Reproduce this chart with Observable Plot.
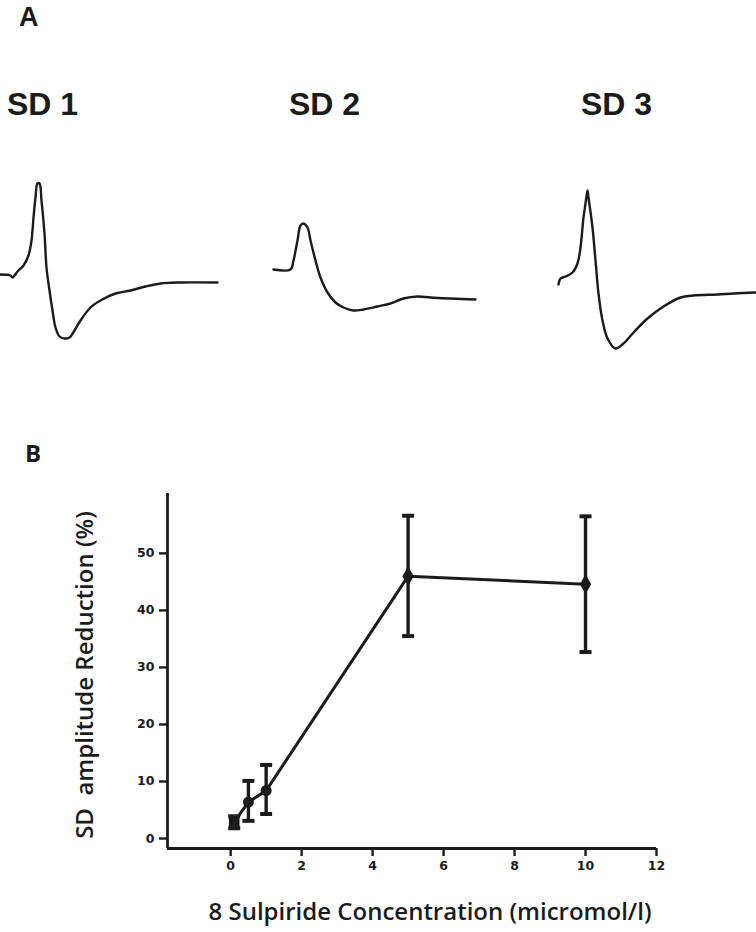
<!DOCTYPE html>
<html>
<head>
<meta charset="utf-8">
<script src="https://cdn.jsdelivr.net/npm/d3@7"></script>
<script src="https://cdn.jsdelivr.net/npm/@observablehq/plot@0.6"></script>
<style>
  html, body { margin: 0; padding: 0; background: #fff; }
  #root { position: relative; width: 756px; height: 932px; overflow: hidden; background: #fff; }
  .abs { position: absolute; }
  #labels { position: absolute; left: 0; top: 0; pointer-events: none; }
</style>
</head>
<body>
<div id="root"></div>
<script>
// ---------- Panel A: SD traces (time, amplitude relative to final baseline) ----------
const sd1T = [0, 10, 12, 17, 23, 28, 31, 33, 35, 37, 39, 41, 44, 46, 49, 52, 55, 59, 64, 69, 74, 80, 90, 100, 115, 130, 145, 160, 180, 217];
const sd1V = [0.8, 0.7, 0.5, 1.1, 1.7, 2.7, 4.2, 6.5, 8.5, 9.9, 9.9, 8.2, 4.9, 1.5, -0.8, -2.8, -4.5, -5.4, -5.6, -5.5, -4.8, -3.8, -2.5, -1.8, -1.1, -0.8, -0.4, -0.1, 0, 0];
const sd2T = [0, 17, 20, 24, 27, 30, 34, 37, 42, 47, 54, 62, 70, 80, 90, 104, 117, 130, 144, 157, 177, 202];
const sd2V = [3.0, 3.0, 3.9, 5.9, 7.4, 7.6, 7.2, 5.9, 3.9, 2.2, 0.7, -0.3, -0.8, -1.1, -1.0, -0.7, -0.4, 0.1, 0.3, 0.2, 0.1, 0];
const sd3T = [0, 2, 7, 14, 19, 22, 25, 27, 29, 30, 34, 37, 40, 44, 49, 57, 65, 75, 89, 105, 122, 135, 159, 175, 197];
const sd3V = [0.8, 1.4, 1.6, 2.0, 2.9, 4.5, 7.5, 8.9, 10.2, 9.5, 6.5, 3.2, -0.1, -2.8, -4.6, -5.6, -5.1, -4.0, -2.6, -1.4, -0.5, -0.3, -0.2, -0.1, 0];
const traceNames = ["SD 1", "SD 2", "SD 3"];
const traceYDomain = [-6, 10.5];

// ---------- Panel B: dose-response ----------
const conc = [0.1, 0.5, 1, 5, 10];
const reduction = [2.9, 6.4, 8.4, 46.0, 44.6];
const errLow = [1.8, 3.1, 4.3, 35.5, 32.7];
const errHigh = [3.9, 10.1, 12.9, 56.6, 56.5];
const markerShape = ["square", "circle", "circle", "diamond", "diamond"];
const xTicks = [0, 2, 4, 6, 8, 10, 12];
const yTicks = [0, 10, 20, 30, 40, 50];
const xDomain = [-1.78, 12];
const yDomain = [-1.75, 60.5];
const xTitle = "8 Sulpiride Concentration (micromol/l)";
const yTitle = "SD\u00a0 amplitude Reduction (%)";

const ink = "#1b1b1b";
const root = document.getElementById("root");

function place(el, left, top) {
  el.classList.add("abs");
  el.style.left = left + "px";
  el.style.top = top + "px";
  root.appendChild(el);
}

function tracePlot(t, v) {
  const span = d3.max(t);
  const rows = t.map((d, i) => ({t: d, v: v[i]}));
  return Plot.plot({
    width: span + 4,
    height: (traceYDomain[1] - traceYDomain[0]) * 10 + 4,
    margin: 2,
    x: {domain: [0, span], axis: null},
    y: {domain: traceYDomain, axis: null},
    style: {overflow: "visible", background: "transparent"},
    marks: [Plot.line(rows, {x: "t", y: "v", stroke: ink, strokeWidth: 2.4, curve: "catmull-rom"})]
  });
}

// trace plots placed so that amplitude 0 lies on each trace's end baseline
place(tracePlot(sd1T, sd1V), -2, 175);
place(tracePlot(sd2T, sd2V), 271, 192);
place(tracePlot(sd3T, sd3V), 556, 185);

// Panel B chart
const rows = conc.map((c, i) => ({c, y: reduction[i], lo: errLow[i], hi: errHigh[i], shape: markerShape[i]}));
const capSymbol = {draw(context) { context.moveTo(-6, 0); context.lineTo(6, 0); }};
const tickFont = {fontFamily: "DejaVu Sans, sans-serif", fontSize: 12.5, fontWeight: "bold"};

const chartB = Plot.plot({
  width: 676,
  height: 410,
  marginLeft: 167,
  marginRight: 20,
  marginTop: 13,
  marginBottom: 42,
  x: {domain: xDomain},
  y: {domain: yDomain},
  style: {fontFamily: "DejaVu Sans, sans-serif", fontSize: "13px", fontWeight: "bold", color: ink, background: "transparent"},
  marks: [
    Plot.ruleX([xDomain[0]], {stroke: ink, strokeWidth: 2.8}),
    Plot.ruleY([yDomain[0]], {stroke: ink, strokeWidth: 2.8}),
    Plot.axisX({ticks: xTicks, tickSize: 8, tickPadding: 5, stroke: ink, strokeWidth: 2.4, fill: ink, label: null, ...tickFont}),
    Plot.axisY({ticks: yTicks, tickSize: 8, tickPadding: 5, stroke: ink, strokeWidth: 2.4, fill: ink, label: null, ...tickFont}),
    Plot.ruleX(rows, {x: "c", y1: "lo", y2: "hi", stroke: ink, strokeWidth: 3.4}),
    Plot.dot(rows, {x: "c", y: "lo", symbol: capSymbol, r: 6, fill: "none", stroke: ink, strokeWidth: 4}),
    Plot.dot(rows, {x: "c", y: "hi", symbol: capSymbol, r: 6, fill: "none", stroke: ink, strokeWidth: 4}),
    Plot.line(rows, {x: "c", y: "y", stroke: ink, strokeWidth: 3}),
    Plot.dot(rows.filter(d => d.shape === "square"), {x: "c", y: "y", symbol: "square", r: 6, fill: ink}),
    Plot.dot(rows.filter(d => d.shape === "circle"), {x: "c", y: "y", symbol: "circle", r: 5.5, fill: ink}),
    Plot.dot(rows.filter(d => d.shape === "diamond"), {x: "c", y: "y", symbol: "diamond", r: 6, fill: ink})
  ]
});
place(chartB, 0, 480);

// Text labels
const svg = d3.select(root).append("svg")
  .attr("id", "labels").attr("width", 756).attr("height", 932);

function label(text, x, y, opts) {
  const t = svg.append("text").attr("x", x).attr("y", y).text(text)
    .attr("fill", ink)
    .attr("font-family", opts.family)
    .attr("font-size", opts.size)
    .attr("font-weight", opts.weight)
    .attr("text-anchor", opts.anchor || "start")
    .style("white-space", "pre");
  if (opts.rotate) t.attr("transform", `rotate(${opts.rotate},${x},${y})`);
  return t;
}
const sansA = "Liberation Sans, Arial, sans-serif";
const sansB = "Open Sans, sans-serif";
label("A", 19, 26, {family: sansA, size: 27, weight: "bold"});
label(traceNames[0], 7, 115, {family: sansA, size: 32, weight: "bold"});
label(traceNames[1], 289, 115, {family: sansA, size: 32, weight: "bold"});
label(traceNames[2], 581, 115, {family: sansA, size: 32, weight: "bold"});
label("B", 25, 462, {family: sansB, size: 24, weight: "bold"});
label(yTitle, 93, 675, {family: sansB, size: 24, weight: 600, anchor: "middle", rotate: -90});
label(xTitle, 430, 920, {family: sansB, size: 24, weight: 600, anchor: "middle"});
</script>
</body>
</html>
